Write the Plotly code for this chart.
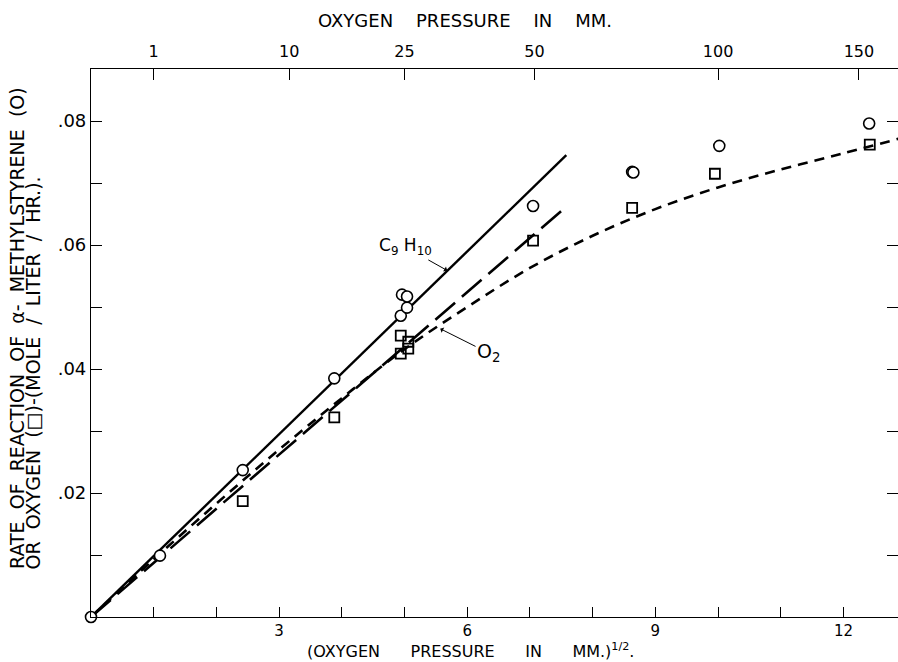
import numpy as np
import plotly.graph_objects as go

# ---- data ----
# alpha-methylstyrene rate (open circles)
circ_x = [0.0, 1.10, 2.42, 3.88, 4.94, 5.04, 4.96, 5.04, 7.05, 8.63, 8.65, 10.02, 12.41]
circ_y = [0.0, 0.0099, 0.0237, 0.0385, 0.0486, 0.0499, 0.0520, 0.0517, 0.0663, 0.0718, 0.0717, 0.0760, 0.0796]
# oxygen rate (open squares)
sq_x = [2.42, 3.88, 4.94, 4.94, 5.06, 5.06, 7.05, 8.63, 9.95, 12.42]
sq_y = [0.0187, 0.0322, 0.0454, 0.0425, 0.0444, 0.0433, 0.0607, 0.0660, 0.0715, 0.0762]

# C9H10 straight line (solid)
c9_x = [0.0, 7.58]
c9_y = [0.0, 0.0745]
# long-dashed straight line
ld_x = [0.0, 7.58]
ld_y = [0.0, 0.0662]
# O2 short-dashed curve
o2_x = [0, 1, 2, 3, 4, 5, 6, 7, 8, 9, 10, 11, 12, 12.9]
o2_y = [0, 0.0093, 0.0183, 0.0270, 0.0353, 0.0432, 0.0500, 0.0563, 0.0615, 0.0658, 0.0693, 0.0722, 0.0748, 0.0772]

# axes
bottom_ticks = [3, 6, 9, 12]
bottom_labels = ["3", "6", "9", "12"]
top_pressures = [1, 10, 25, 50, 100, 150]
top_labels = ["1", "10", "25", "50", "100", "150"]
y_ticks = [0.02, 0.04, 0.06, 0.08]
y_labels = [".02", ".04", ".06", ".08"]

FONT = "DejaVu Sans"
NB = "\u00a0"

fig = go.Figure()

fig.add_trace(go.Scatter(x=o2_x, y=o2_y, mode="lines", line=dict(color="black", width=2.6, dash="10px,7px", shape="spline"),
                         hoverinfo="skip", showlegend=False))
fig.add_trace(go.Scatter(x=ld_x, y=ld_y, mode="lines", line=dict(color="black", width=2.6, dash="26px,9px"),
                         hoverinfo="skip", showlegend=False))
fig.add_trace(go.Scatter(x=c9_x, y=c9_y, mode="lines", line=dict(color="black", width=2.4),
                         hoverinfo="skip", showlegend=False))
fig.add_trace(go.Scatter(x=sq_x, y=sq_y, mode="markers",
                         marker=dict(symbol="square-open", size=10, color="black", line=dict(width=1.8)),
                         cliponaxis=False, showlegend=False))
fig.add_trace(go.Scatter(x=circ_x, y=circ_y, mode="markers",
                         marker=dict(symbol="circle", size=11, color="white", line=dict(width=1.6, color="black")),
                         cliponaxis=False, showlegend=False))
# dummy trace for the top axis
fig.add_trace(go.Scatter(x=[0, 12.87], y=[None, None], xaxis="x2", mode="lines", showlegend=False, hoverinfo="skip"))

XR = [0, 12.87]
YR = [0, 0.0884]

fig.update_layout(
    width=898, height=662,
    margin=dict(l=91, r=0, t=69, b=45),
    paper_bgcolor="white", plot_bgcolor="white",
    font=dict(family=FONT, color="black"),
    xaxis=dict(range=XR, showgrid=False, zeroline=False, showline=True, linecolor="black", linewidth=1.2,
               ticks="inside", ticklen=10, tickwidth=1, tickcolor="black",
               tickvals=bottom_ticks, ticktext=bottom_labels, tickfont=dict(size=15, family=FONT),
               ticklabelstandoff=0,
               minor=dict(tick0=0, dtick=1, ticks="inside", ticklen=10, tickwidth=1, tickcolor="black", showgrid=False)),
    xaxis2=dict(range=XR, overlaying="x", side="top", showgrid=False, zeroline=False, showline=True,
                linecolor="black", linewidth=1.2, ticks="inside", ticklen=11, tickwidth=1, tickcolor="black",
                tickvals=[float(np.sqrt(p)) for p in top_pressures], ticktext=top_labels,
                tickfont=dict(size=16, family=FONT), ticklabelstandoff=5),
    yaxis=dict(range=YR, showgrid=False, zeroline=False, showline=True, linecolor="black", linewidth=1.2,
               mirror="ticks", ticks="inside", ticklen=11, tickwidth=1, tickcolor="black",
               tickvals=y_ticks, ticktext=y_labels, tickfont=dict(size=18, family=FONT),
               minor=dict(tick0=0, dtick=0.01, ticks="inside", ticklen=11, tickwidth=1, tickcolor="black", showgrid=False)),
)

ann = []
# top title
ann.append(dict(xref="x", yref="paper", x=5.97, y=1.088,
                text="OXYGEN" + NB * 4 + "PRESSURE" + NB * 4 + "IN" + NB * 4 + "MM.",
                showarrow=False, font=dict(size=18, family=FONT), xanchor="center", yanchor="middle"))
# bottom title
ann.append(dict(xref="x", yref="paper", x=6.06, y=0.0, yshift=-33,
                text="(OXYGEN" + NB * 6 + "PRESSURE" + NB * 6 + "IN" + NB * 6 + "MM.)<sup>1/2</sup>.",
                showarrow=False, font=dict(size=16, family=FONT), xanchor="center", yanchor="middle"))
# y title (two rotated lines)
ann.append(dict(xref="paper", yref="paper", x=-0.0917, y=0.084, textangle=-90,
                text="RATE" + NB * 2 + "OF" + NB * 2 + "REACTION" + NB * 2 + "OF" + NB * 2 + "α-" + NB * 2
                     + "METHYLSTYRENE" + NB * 2 + "(O)",
                showarrow=False, font=dict(size=19, family=FONT), xanchor="center", yanchor="bottom"))
ann.append(dict(xref="paper", yref="paper", x=-0.0707, y=0.084, textangle=-90,
                text="OR" + NB * 2 + "OXYGEN" + NB * 2 + "(□)-(MOLE" + NB * 2 + "/" + NB * 2 + "LITER" + NB * 2
                     + "/" + NB * 2 + "HR.).",
                showarrow=False, font=dict(size=19, family=FONT), xanchor="center", yanchor="bottom"))
# curve labels with arrows pointing at the curves
ann.append(dict(xref="x", yref="y", x=5.68, y=0.0559, ax=5.01, ay=0.0597, axref="x", ayref="y",
                text="C<sub>9</sub>" + NB + "H<sub>10</sub>", font=dict(size=17, family=FONT),
                showarrow=True, arrowhead=1, arrowsize=1, arrowwidth=1, arrowcolor="black", standoff=0))
ann.append(dict(xref="x", yref="y", x=5.57, y=0.0465, ax=6.34, ay=0.0426, axref="x", ayref="y",
                text="O<sub>2</sub>", font=dict(size=19, family=FONT),
                showarrow=True, arrowhead=1, arrowsize=1, arrowwidth=1, arrowcolor="black", standoff=0))
fig.update_layout(annotations=ann)

fig.write_html("out.html")
